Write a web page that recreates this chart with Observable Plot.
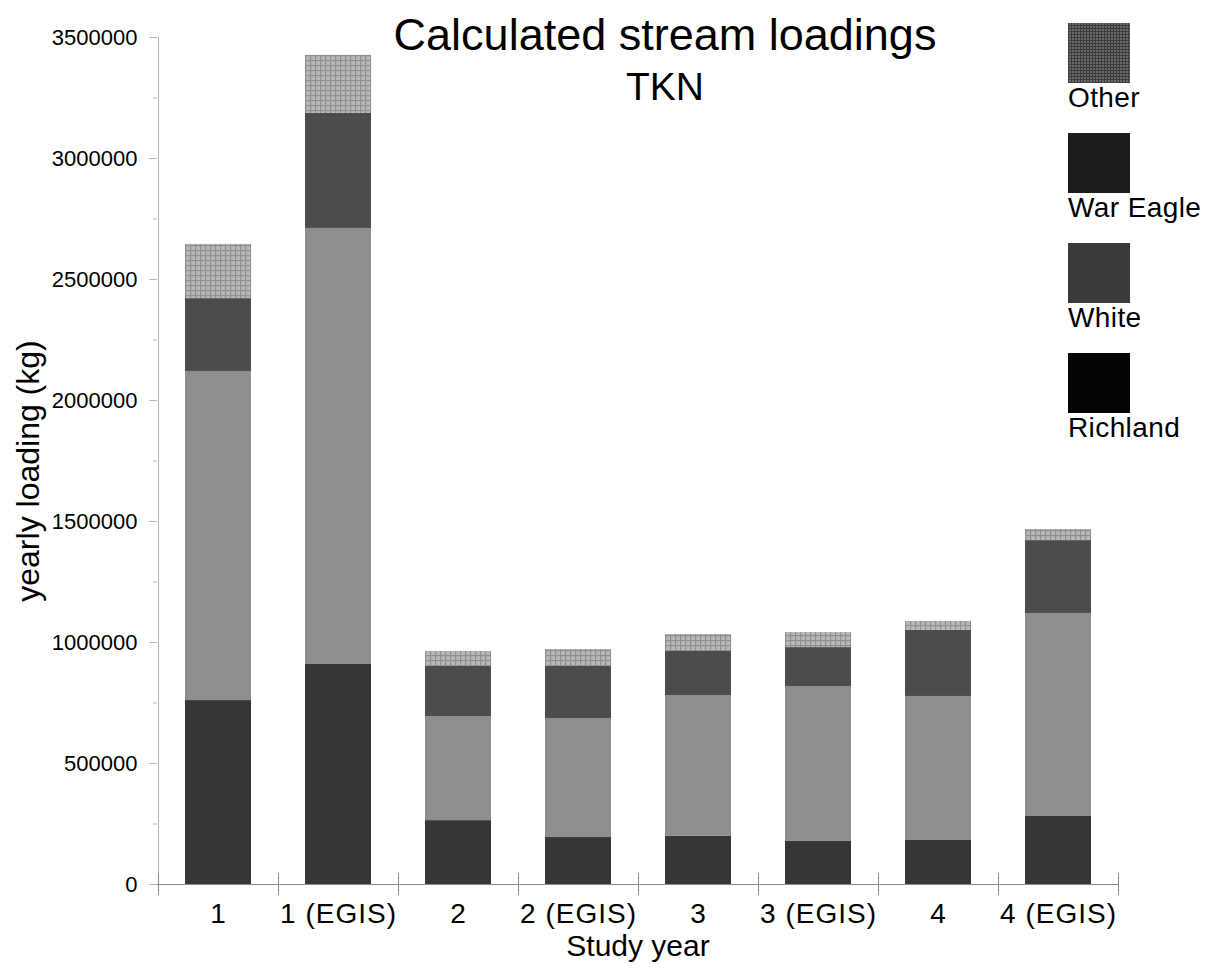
<!DOCTYPE html>
<html>
<head>
<meta charset="utf-8">
<script src="https://cdn.jsdelivr.net/npm/d3@7"></script>
<script src="https://cdn.jsdelivr.net/npm/@observablehq/plot@0.6"></script>
<style>
  html, body { margin: 0; padding: 0; background: #fff; }
  body { width: 1212px; height: 971px; overflow: hidden; font-family: "Liberation Sans", Arial, sans-serif; }
  #wrap { position: relative; width: 1212px; height: 971px; }
  #chart { position: absolute; left: 0; top: 0; }
  #chart g[aria-label="x-axis tick label"] text { letter-spacing: 1px; }
  .title { position: absolute; left: 365px; width: 600px; text-align: center; line-height: 1; color: #000; white-space: nowrap; }
  .lg-sw { position: absolute; left: 1068px; width: 62px; height: 60px; }
  .lg-tx { position: absolute; left: 1068px; font-size: 28px; letter-spacing: 0.4px; line-height: 1; color: #000; white-space: nowrap; }
</style>
</head>
<body>
<div id="wrap">
  <div id="chart"></div>
  <div class="title" style="top:12px;font-size:45px;">Calculated stream loadings</div>
  <div class="title" style="top:67px;font-size:39px;">TKN</div>
  <div id="legend"></div>
</div>
<script>
// ---- data ----
const categories = ["1", "1 (EGIS)", "2", "2 (EGIS)", "3", "3 (EGIS)", "4", "4 (EGIS)"];
const seriesNames = ["Richland", "White", "War Eagle", "Other"];
const richland = [760000, 909000, 264000, 194000, 200000, 178000, 182000, 281000];
const white    = [1360000, 1802000, 430000, 492000, 581000, 640000, 595000, 839000];
const warEagle = [301000, 475000, 207000, 215000, 182000, 161000, 273000, 301000];
const other    = [224000, 240000, 62000, 70000, 70000, 62000, 37000, 46000];
const yTicks = [0, 500000, 1000000, 1500000, 2000000, 2500000, 3000000, 3500000];
const yMinorTicks = [250000, 750000, 1250000, 1750000, 2250000, 2750000, 3250000];
const legendOrder = ["Other", "War Eagle", "White", "Richland"];

const seriesValues = {"Richland": richland, "White": white, "War Eagle": warEagle, "Other": other};
const rows = [];
categories.forEach((c, i) => {
  seriesNames.forEach(s => rows.push({year: c, series: s, value: seriesValues[s][i]}));
});

const barFill = ["#363636", "#8e8e8e", "#4c4c4c", "url(#otherGrid)"];

function defs() {
  const d = d3.create("svg:defs");
  const p = d.append("pattern").attr("id", "otherGrid").attr("patternUnits", "userSpaceOnUse")
    .attr("width", 5).attr("height", 5);
  p.append("rect").attr("width", 5).attr("height", 5).attr("fill", "#b8b8b8");
  p.append("rect").attr("width", 5).attr("height", 1.2).attr("fill", "#8f8f8f");
  p.append("rect").attr("width", 1.2).attr("height", 5).attr("fill", "#8f8f8f");
  return d.node();
}

const chart = Plot.plot({
  width: 1212,
  height: 971,
  marginLeft: 157,
  marginRight: 94,
  marginTop: 37,
  marginBottom: 87,
  style: {fontFamily: "'Liberation Sans', Arial, sans-serif", fontSize: "22px", color: "#000", background: "#fff", overflow: "visible"},
  x: {type: "band", domain: categories, paddingInner: 0.45, paddingOuter: 0.225, label: null},
  y: {domain: [0, 3500000], label: null},
  color: {domain: seriesNames, range: barFill},
  marks: [
    defs,
    // y axis line
    Plot.ruleX([categories[0]], {x: d => d, dx: -60, y1: 0, y2: 3500000, stroke: "#b5b5b5"}),
    Plot.axisY({ticks: yMinorTicks, tickSize: 4, tickFormat: () => "", stroke: "#b5b5b5"}),
    Plot.axisY({ticks: yTicks, tickSize: 8, tickPadding: 12, tickFormat: d3.format("d"), fontSize: 22, stroke: "#b5b5b5"}),
    Plot.barY(rows, {x: "year", y: "value", fill: "series", order: seriesNames}),
    // x axis line and separators between categories
    Plot.ruleY([0], {stroke: "#8a8a8a"}),
    Plot.ruleX(categories, {x: d => d, dx: -60, y1: 0, y2: 0, insetTop: -11, insetBottom: -11, stroke: "#8a8a8a"}),
    Plot.ruleX([categories[categories.length - 1]], {x: d => d, dx: 60, y1: 0, y2: 0, insetTop: -11, insetBottom: -11, stroke: "#8a8a8a"}),
    Plot.axisX({tickSize: 0, tickPadding: 19, fontSize: 28}),
    Plot.text(["Study year"], {frameAnchor: "bottom", lineAnchor: "middle", dy: 62, fontSize: 30, fill: "#000", letterSpacing: "1.2px"}),
    Plot.text(["yearly loading (kg)"], {frameAnchor: "left", textAnchor: "middle", rotate: -90, dx: -129, dy: 10, fontSize: 32, fill: "#000", letterSpacing: "2px"})
  ]
});
document.getElementById("chart").appendChild(chart);

// legend (swatches as they appear in the reference key)
const legendSwatch = {
  "Other": "repeating-linear-gradient(0deg, #3c3c3c 0 1px, transparent 1px 3px), repeating-linear-gradient(90deg, #3c3c3c 0 1px, transparent 1px 3px), #6a6a6a",
  "War Eagle": "#1c1c1c",
  "White": "#3a3a3a",
  "Richland": "#050505"
};
const lg = document.getElementById("legend");
legendOrder.forEach((name, i) => {
  const sw = document.createElement("div");
  sw.className = "lg-sw";
  sw.style.top = (23 + i * 110) + "px";
  sw.style.background = legendSwatch[name];
  lg.appendChild(sw);
  const tx = document.createElement("div");
  tx.className = "lg-tx";
  tx.style.top = (84 + i * 110) + "px";
  tx.textContent = name;
  lg.appendChild(tx);
});
</script>
</body>
</html>
